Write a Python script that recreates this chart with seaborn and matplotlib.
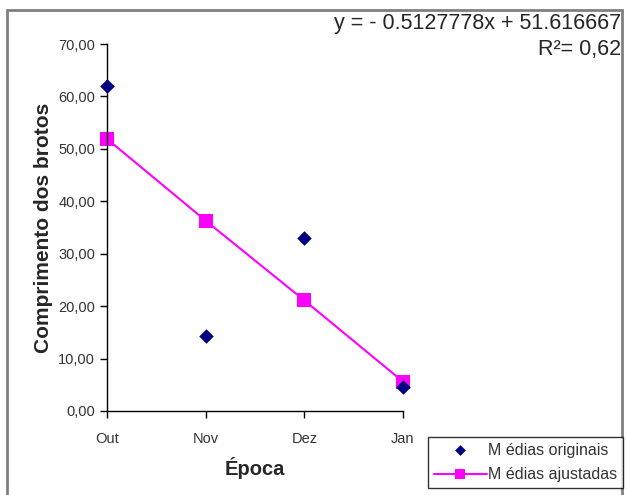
import numpy as np
import seaborn as sns
import matplotlib.pyplot as plt
import pandas as pd
from matplotlib.patches import Rectangle

epocas = ['Out', 'Nov', 'Dez', 'Jan']
medias_originais = [62.0, 14.4, 33.0, 4.6]
medias_ajustadas = [51.9, 36.3, 21.1, 5.6]
y_ticks = [0, 10, 20, 30, 40, 50, 60, 70]
y_labels = ['0,00', '10,00', '20,00', '30,00', '40,00', '50,00', '60,00', '70,00']
equacao = 'y = - 0.5127778x + 51.616667'
r2 = 'R²= 0,62'


def draw(out_path):
    sns.set_style('white')
    plt.rcParams['font.family'] = ['Liberation Sans', 'DejaVu Sans']
    data = pd.DataFrame({'epoca': epocas, 'orig': medias_originais, 'ajust': medias_ajustadas})

    fig = plt.figure(figsize=(6.27, 4.95), dpi=100)
    ax = fig.add_axes([107 / 627, 1 - 411 / 495, (403 - 107) / 627, (411 - 44) / 495])

    sns.lineplot(data=data, x='epoca', y='ajust', color='#ff00ff', linewidth=1.5,
                 marker='s', markersize=10, markeredgewidth=0, ax=ax,
                 label='M édias ajustadas', zorder=2)
    sns.scatterplot(data=data, x='epoca', y='orig', color='#000080', marker='D',
                    s=55, linewidth=0, ax=ax, label='M édias originais', zorder=3)
    for ln in ax.lines:
        ln.set_clip_on(False)
    for c in ax.collections:
        c.set_clip_on(False)

    ax.set_xlim(0, 3)
    ax.set_ylim(0, 70)
    ax.set_yticks(y_ticks)
    ax.set_yticklabels(y_labels)
    ax.set_xticks(range(len(epocas)))
    ax.set_xticklabels(epocas)
    ax.tick_params(axis='both', direction='out', length=5, width=1, color='black',
                   labelsize=10.5, labelcolor='#333333', bottom=True, left=True)
    ax.tick_params(axis='x', pad=10)
    ax.spines.right.set_visible(False)
    ax.spines.top.set_visible(False)
    for s in ['left', 'bottom']:
        ax.spines[s].set_color('black')
        ax.spines[s].set_linewidth(1)
    ax.set_xlabel('Época', fontsize=14.5, fontweight='bold', labelpad=8)
    ax.set_ylabel('Comprimento dos brotos', fontsize=15, fontweight='bold', labelpad=4)

    handles, labels = ax.get_legend_handles_labels()
    ax.get_legend().remove()
    order = [1, 0]
    leg = fig.legend([handles[i] for i in order], [labels[i] for i in order],
                     loc='upper right', bbox_to_anchor=(623 / 627, 1 - 437 / 495),
                     frameon=True, fancybox=False, edgecolor='black', fontsize=11.5,
                     handlelength=3.3, borderpad=0.35, labelspacing=0.6, handletextpad=0.1,
                     borderaxespad=0)
    leg.get_frame().set_linewidth(1)
    for t in leg.get_texts():
        t.set_color('#333333')
    lh = leg.legend_handles
    lh[0].set_sizes([30])
    lh[1].set_markersize(7)

    fig.text(621 / 627, 1 - 23 / 495, equacao, ha='right', va='center', fontsize=15.5)
    fig.text(621 / 627, 1 - 50 / 495, r2, ha='right', va='center', fontsize=15.5)

    fig.patches.append(Rectangle((7 / 627, -0.05), (622 - 7) / 627, 1.05 - 10 / 495,
                                 transform=fig.transFigure, fill=False,
                                 edgecolor='#808080', linewidth=2))
    plt.savefig(out_path, dpi=100)


if __name__ == '__main__':
    draw('out.png')
